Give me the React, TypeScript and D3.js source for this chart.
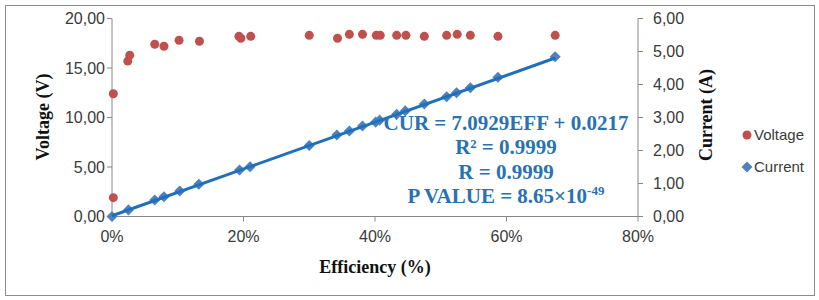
import React from "react";
import * as d3 from "d3";

const voltageEff = [0.2, 0.2, 2.4, 2.7, 6.5, 7.9, 10.2, 13.3, 19.3, 19.6, 21.1, 30.0, 34.3, 36.1, 38.1, 40.2, 40.8, 43.3, 44.7, 47.5, 50.9, 52.5, 54.5, 58.7, 67.4];
const voltageVals = [1.9, 12.4, 15.7, 16.3, 17.4, 17.2, 17.8, 17.7, 18.2, 18.0, 18.2, 18.3, 18.0, 18.4, 18.4, 18.3, 18.3, 18.3, 18.3, 18.2, 18.3, 18.4, 18.3, 18.2, 18.3];
const currentEff = [0.0, 2.5, 6.5, 7.9, 10.3, 13.2, 19.4, 21.0, 30.0, 34.2, 36.1, 38.1, 40.1, 40.7, 43.3, 44.6, 47.5, 50.9, 52.4, 54.5, 58.7, 67.4];
const currentVals = [0.0, 0.2, 0.5, 0.6, 0.77, 0.98, 1.41, 1.51, 2.15, 2.47, 2.59, 2.74, 2.86, 2.92, 3.1, 3.2, 3.41, 3.63, 3.75, 3.9, 4.22, 4.84];
const xTicks = [0, 20, 40, 60, 80];
const leftTicks = [0, 5, 10, 15, 20];
const rightTicks = [0, 1, 2, 3, 4, 5, 6];
const slope = 7.0929;
const intercept = 0.0217;
const eqLines = ["CUR = 7.0929EFF + 0.0217", "R\u00b2 = 0.9999", "R = 0.9999"];

const W = 819, H = 300;
const x = d3.scaleLinear().domain([0, 80]).range([112, 638]);
const yL = d3.scaleLinear().domain([0, 20]).range([216.5, 18.5]);
const yR = d3.scaleLinear().domain([0, 6]).range([216.5, 18.5]);
const fmt = (v: number) => v.toFixed(2).replace(".", ",");

const axisColor = "#888888";
const tickFont = "'Liberation Sans', Arial, sans-serif";
const serif = "'Liberation Serif', 'Times New Roman', serif";
const eqColor = "#2872b2";
const labelColor = "#3a3a3a";

export default function App() {
  const diamond = d3.symbol().type(d3.symbolDiamond2).size(78)() as string;
  const trend = d3.line<number>().x((e) => x(e)).y((e) => yR(slope * e / 100 + intercept));
  const trendX = [0, d3.max(currentEff) as number];
  return (
    <svg width={W} height={H} style={{ position: "absolute", left: 0, top: 0, background: "#fff" }}>
      <rect x={5.5} y={5.5} width={809} height={290} fill="#fff" stroke="#8c8c8c" strokeWidth={1} />
      {/* axes */}
      <line x1={x(0)} x2={x(80)} y1={yL(0)} y2={yL(0)} stroke={axisColor} />
      <line x1={x(0)} x2={x(0)} y1={yL(0)} y2={yL(20)} stroke={axisColor} />
      <line x1={x(80)} x2={x(80)} y1={yR(0)} y2={yR(6)} stroke={axisColor} />
      {xTicks.map((t) => (
        <g key={"x" + t}>
          <line x1={x(t)} x2={x(t)} y1={yL(0)} y2={yL(0) + 5} stroke={axisColor} />
          <text x={x(t)} y={242} textAnchor="middle" fontFamily={tickFont} fontSize={16} fill={labelColor}>{t + "%"}</text>
        </g>
      ))}
      {leftTicks.map((t) => (
        <g key={"l" + t}>
          <line x1={x(0) - 5} x2={x(0)} y1={yL(t)} y2={yL(t)} stroke={axisColor} />
          <text x={105} y={yL(t) + 5.5} textAnchor="end" fontFamily={tickFont} fontSize={16} fill={labelColor}>{fmt(t)}</text>
        </g>
      ))}
      {rightTicks.map((t) => (
        <g key={"r" + t}>
          <line x1={x(80)} x2={x(80) + 5} y1={yR(t)} y2={yR(t)} stroke={axisColor} />
          <text x={653} y={yR(t) + 5.5} textAnchor="start" fontFamily={tickFont} fontSize={16} fill={labelColor}>{fmt(t)}</text>
        </g>
      ))}
      {/* axis titles */}
      <text transform="translate(49,117) rotate(-90)" textAnchor="middle" fontFamily={serif} fontWeight="bold" fontSize={18} fill="#111">Voltage (V)</text>
      <text transform="translate(712,115) rotate(-90)" textAnchor="middle" fontFamily={serif} fontWeight="bold" fontSize={18} fill="#111">Current (A)</text>
      <text x={375} y={273} textAnchor="middle" fontFamily={serif} fontWeight="bold" fontSize={18} fill="#111">Efficiency (%)</text>
      {/* voltage points */}
      {voltageEff.map((e, i) => (
        <circle key={"v" + i} cx={x(e)} cy={yL(voltageVals[i])} r={4.5} fill="#c0504d" />
      ))}
      {/* current points */}
      {currentEff.map((e, i) => (
        <path key={"c" + i} d={diamond} transform={`translate(${x(e)},${yR(currentVals[i])})`} fill="#4f81bd" />
      ))}
      <path d={trend(trendX) as string} fill="none" stroke="#1f6fbd" strokeWidth={3} />
      {/* equation */}
      {eqLines.map((s, i) => (
        <text key={"eq" + i} x={506} y={130 + i * 24.3} textAnchor="middle" fontFamily={serif} fontWeight="bold" fontSize={21} fill={eqColor}>{s}</text>
      ))}
      <text x={506} y={203} textAnchor="middle" fontFamily={serif} fontWeight="bold" fontSize={21} fill={eqColor}>
        P VALUE = 8.65×10<tspan fontSize={13} dy={-8}>-49</tspan>
      </text>
      {/* legend */}
      <circle cx={747} cy={135} r={4.5} fill="#c0504d" />
      <text x={754} y={140} fontFamily={tickFont} fontSize={15} fill={labelColor}>Voltage</text>
      <path d={diamond} transform="translate(747,167)" fill="#4f81bd" />
      <text x={754} y={172} fontFamily={tickFont} fontSize={15} fill={labelColor}>Current</text>
    </svg>
  );
}
